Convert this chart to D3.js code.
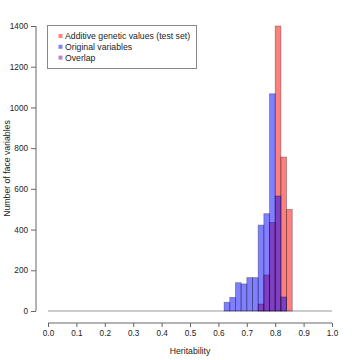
<!DOCTYPE html>
<html>
<head>
<meta charset="utf-8">
<script src="https://cdn.jsdelivr.net/npm/d3@7/dist/d3.min.js"></script>
<style>
  html, body { margin: 0; padding: 0; background: #fff; }
  svg { display: block; font-family: "Liberation Sans", Arial, Helvetica, sans-serif; }
</style>
</head>
<body>
<svg id="chart" width="360" height="360"></svg>
<script>
// Histogram bins (left edges, width 0.02)
const binLefts = [0.62, 0.64, 0.66, 0.68, 0.70, 0.72, 0.74, 0.76, 0.78, 0.80, 0.82, 0.84];
const binWidth = 0.02;
// Additive genetic values (test set)
const redCounts = [0, 0, 0, 0, 0, 0, 34, 177, 435, 1400, 756, 499];
// Original variables
const blueCounts = [43, 67, 139, 133, 164, 164, 422, 478, 1067, 565, 69, 0];

const xTicks = [0.0, 0.1, 0.2, 0.3, 0.4, 0.5, 0.6, 0.7, 0.8, 0.9, 1.0];
const yTicks = [0, 200, 400, 600, 800, 1000, 1200, 1400];
const legendLabels = ["Additive genetic values (test set)", "Original variables", "Overlap"];
const legendColors = ["#ff8080", "#8080ff", "#bf80d0"];

const svg = d3.select("#chart");
const x = d3.scaleLinear().domain([0, 1]).range([48, 332]);
const y = d3.scaleLinear().domain([0, 1400]).range([311, 26]);

// baseline of empty bins
svg.append("line")
  .attr("x1", x(0)).attr("x2", x(1))
  .attr("y1", y(0)).attr("y2", y(0))
  .attr("stroke", "#999").attr("stroke-width", 1);

function drawHist(counts, fill) {
  const data = binLefts.map((b, i) => ({ b, c: counts[i] })).filter(d => d.c > 0);
  svg.append("g").selectAll("rect").data(data).enter().append("rect")
    .attr("x", d => x(d.b))
    .attr("width", d => x(d.b + binWidth) - x(d.b))
    .attr("y", d => y(d.c))
    .attr("height", d => y(0) - y(d.c))
    .attr("fill", fill)
    .attr("fill-opacity", 0.5)
    .attr("stroke", "#000")
    .attr("stroke-opacity", 0.35)
    .attr("stroke-width", 0.8);
}
drawHist(redCounts, "#ff0000");
drawHist(blueCounts, "#0000ff");

// Y axis
const yAxis = d3.axisLeft(y).tickValues(yTicks).tickSize(5).tickPadding(3).tickFormat(d3.format("d"));
const gy = svg.append("g").attr("transform", "translate(36,0)").call(yAxis);
gy.select(".domain").attr("d", `M0,${y(0)}V${y(1400)}`).attr("stroke", "#666");
gy.selectAll(".tick line").attr("stroke", "#666");
gy.selectAll(".tick text").attr("font-size", 8.2).attr("fill", "#222").attr("font-family", null);

// X axis
const xAxis = d3.axisBottom(x).tickValues(xTicks).tickSize(4).tickPadding(3).tickFormat(d3.format(".1f"));
const gx = svg.append("g").attr("transform", "translate(0,323)").call(xAxis);
gx.select(".domain").attr("d", `M${x(0)},0H${x(1)}`).attr("stroke", "#666");
gx.selectAll(".tick line").attr("stroke", "#666");
gx.selectAll(".tick text").attr("font-size", 8.2).attr("fill", "#222").attr("font-family", null);

// Axis titles
svg.append("text")
  .attr("x", (x(0) + x(1)) / 2).attr("y", 354)
  .attr("text-anchor", "middle").attr("font-size", 8.7).attr("fill", "#222")
  .text("Heritability");
svg.append("text")
  .attr("transform", `translate(9.5,${(y(0) + y(1400)) / 2}) rotate(-90)`)
  .attr("text-anchor", "middle").attr("font-size", 8.7).attr("fill", "#222")
  .text("Number of face variables");

// Legend
const lg = svg.append("g");
lg.append("rect")
  .attr("x", 47.5).attr("y", 25.5).attr("width", 149).attr("height", 43)
  .attr("fill", "#fff").attr("stroke", "#888").attr("stroke-width", 1);
legendLabels.forEach((t, i) => {
  const cy = 36 + i * 10.8;
  lg.append("rect").attr("x", 58.5).attr("y", cy - 2).attr("width", 4).attr("height", 4)
    .attr("fill", legendColors[i]);
  lg.append("text").attr("x", 65).attr("y", cy + 3.2)
    .attr("font-size", 8.7).attr("fill", "#222").text(t);
});
</script>
</body>
</html>
